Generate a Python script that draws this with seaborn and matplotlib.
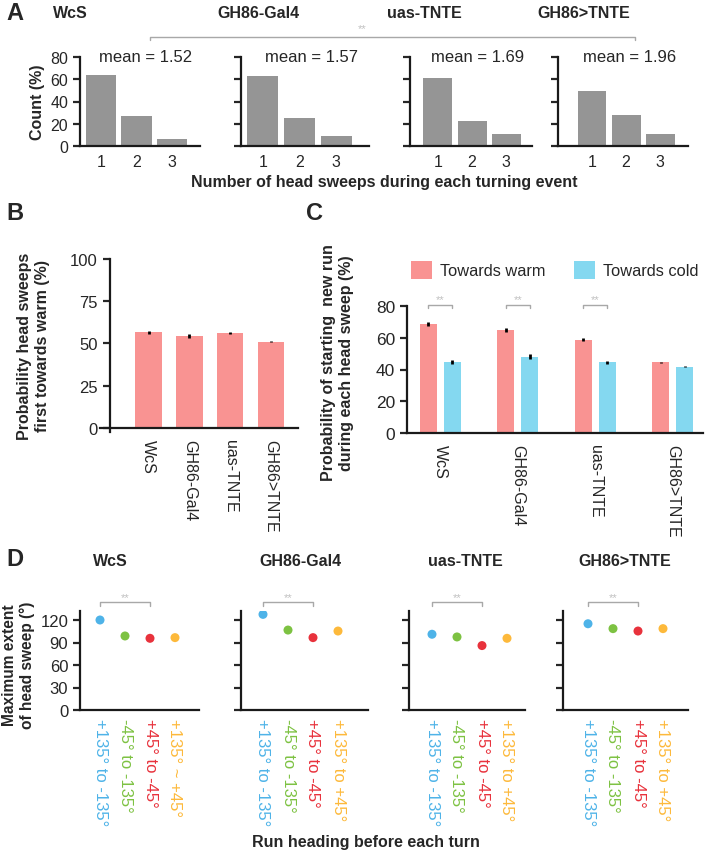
import numpy as np
import pandas as pd
import matplotlib
matplotlib.use("Agg")
import matplotlib.pyplot as plt
from matplotlib.patches import Patch
import seaborn as sns

# ---------------- data ----------------
genotypes = ["WcS", "GH86-Gal4", "uas-TNTE", "GH86>TNTE"]

# Panel A: distribution of head sweeps per turn (%)
sweep_counts = ["1", "2", "3"]
countA_wcs = [63.8, 26.7, 6.0]
countA_gal4 = [62.6, 25.2, 9.3]
countA_uas = [61.1, 22.7, 10.5]
countA_tnte = [49.4, 27.6, 11.1]
meansA = ["1.52", "1.57", "1.69", "1.96"]

# Panel B: probability head sweeps first towards warm (%)
probB = [56.6, 54.3, 56.2, 51.1]
errB = [1.0, 1.1, 0.8, 0.4]

# Panel C: probability of starting new run (%)
directions = ["Towards warm", "Towards cold"]
probC_warm = [68.7, 65.1, 58.8, 44.5]
probC_cold = [44.5, 48.1, 44.5, 41.8]
errC_warm = [1.2, 1.3, 1.0, 0.4]
errC_cold = [1.3, 1.6, 1.0, 0.4]

# Panel D: maximum extent of head sweep (deg)
headings = ["+135° to -135°", "-45° to -135°", "+45° to -45°", "+135° to +45°"]
headings_wcs = ["+135° to -135°", "-45° to -135°", "+45° to -45°", "+135° ~ +45°"]
extD_wcs = [120.0, 98.7, 95.6, 96.5]
extD_gal4 = [127.5, 106.6, 96.5, 105.3]
extD_uas = [101.0, 97.4, 85.9, 95.6]
extD_tnte = [115.0, 108.5, 105.3, 108.5]
errD_wcs = [2.0, 1.5, 1.5, 1.5]
errD_gal4 = [4.0, 1.5, 1.5, 1.5]
errD_uas = [1.5, 1.5, 1.5, 1.5]
errD_tnte = [1.5, 1.5, 1.5, 1.5]

# ---------------- style ----------------
sns.set_theme(style="ticks")
plt.rcParams["font.family"] = ["Liberation Sans", "DejaVu Sans"]
plt.rcParams["axes.linewidth"] = 1.6
plt.rcParams["xtick.major.width"] = 1.6
plt.rcParams["ytick.major.width"] = 1.6
plt.rcParams["ytick.major.size"] = 5
plt.rcParams["xtick.major.size"] = 0
plt.rcParams["axes.edgecolor"] = "#1a1a1a"

GRAY = "#959595"
PINK = "#F99392"
CYAN = "#84D8F0"
DCOLS = ["#4EB3E8", "#7DC242", "#E8323C", "#FDB93B"]
SIG = "#a8a8a8"
STAR = "#c0c0c0"

W, H = 707, 853
fig = plt.figure(figsize=(W / 100, H / 100), dpi=100)


def rect(l, t, r, b):
    return [l / W, 1 - b / H, (r - l) / W, (b - t) / H]


FS = 11.5

# ---------------- Panel A ----------------
A_rects = [(80, 58, 200, 147), (241, 58, 369, 147), (410, 58, 532, 147), (558, 58, 688, 147)]
A_xlims = [(-0.59, 2.79), (-0.6, 2.9), (-0.82, 2.76), (-1.0, 2.82)]
A_data = [countA_wcs, countA_gal4, countA_uas, countA_tnte]
A_title_x = [70, 258, 424, 584]
for i, (r, vals) in enumerate(zip(A_rects, A_data)):
    ax = fig.add_axes(rect(*r))
    df = pd.DataFrame({"n": sweep_counts, "pct": vals})
    sns.barplot(data=df, x="n", y="pct", color=GRAY, saturation=1, width=0.85,
                edgecolor="none", ax=ax)
    ax.set_xlim(*A_xlims[i])
    ax.set_ylim(0, 80)
    ax.set_yticks([0, 20, 40, 60, 80])
    sns.despine(ax=ax)
    ax.set_xlabel("")
    ax.set_ylabel("")
    ax.tick_params(axis="x", labelsize=FS, pad=6)
    ax.tick_params(axis="y", labelsize=FS)
    if i == 0:
        ax.set_ylabel("Count (%)", fontsize=FS, fontweight="bold", labelpad=4)
    else:
        ax.set_yticklabels([])
    ax.text(0.55, 1.0, f"mean = {meansA[i]}", transform=ax.transAxes,
            ha="center", va="center", fontsize=FS + 0.5)
    fig.text(A_title_x[i] / W, 1 - 13 / H, genotypes[i], ha="center", va="center",
             fontsize=FS, fontweight="bold")

fig.text(384 / W, 1 - 183 / H, "Number of head sweeps during each turning event",
         ha="center", va="center", fontsize=FS, fontweight="bold")
# significance line WcS vs GH86>TNTE
fig.add_artist(plt.Line2D([150 / W, 150 / W, 635 / W, 635 / W],
                          [1 - 41 / H, 1 - 38 / H, 1 - 38 / H, 1 - 41 / H],
                          color=SIG, lw=1.0))
fig.text(362 / W, 1 - 29 / H, "**", ha="center", va="center", fontsize=8, color=STAR)
fig.text(6 / W, 1 - 13 / H, "A", ha="left", va="center", fontsize=17, fontweight="bold")

# ---------------- Panel B ----------------
axB = fig.add_axes(rect(100, 260, 298, 433))
dfB = pd.DataFrame({"genotype": genotypes, "prob": probB})
sns.barplot(data=dfB, x="genotype", y="prob", color=PINK, saturation=1, width=0.65,
            edgecolor="none", ax=axB)
xb = np.arange(len(genotypes))
axB.errorbar(xb, probB, yerr=errB, fmt="none", ecolor="black", elinewidth=2, capsize=0)
axB.set_xlim(-1.19, 3.66)
axB.set_ylim(-2.4, 100)
axB.set_yticks([0, 25, 50, 75, 100])
sns.despine(ax=axB)
axB.spines["bottom"].set_position(("data", 0))
axB.spines["left"].set_position(("data", -0.95))
axB.spines["left"].set_bounds(-2.4, 100)
axB.set_xlabel("")
axB.set_ylabel("Probability head sweeps\nfirst towards warm (%)", fontsize=FS,
               fontweight="bold")
axB.yaxis.set_label_coords(-0.255, 0.5)
axB.tick_params(axis="y", labelsize=FS + 0.5)
axB.tick_params(axis="x", labelsize=FS, pad=8)
for lab in axB.get_xticklabels():
    lab.set_rotation(-90)
    lab.set_va("top")
    lab.set_ha("center")
fig.text(6 / W, 1 - 214 / H, "B", ha="left", va="center", fontsize=17, fontweight="bold")

# ---------------- Panel C ----------------
axC = fig.add_axes(rect(407, 307, 703, 434))
dfC = pd.DataFrame({
    "genotype": genotypes * 2,
    "direction": [directions[0]] * 4 + [directions[1]] * 4,
    "prob": probC_warm + probC_cold,
})
sns.barplot(data=dfC, x="genotype", y="prob", hue="direction", hue_order=directions,
            palette=[PINK, CYAN], saturation=1, width=0.62, gap=0.29,
            edgecolor="none", ax=axC, legend=False)
xc = np.arange(len(genotypes))
off = 0.155
axC.errorbar(xc - off, probC_warm, yerr=errC_warm, fmt="none", ecolor="black",
             elinewidth=2, capsize=0)
axC.errorbar(xc + off, probC_cold, yerr=errC_cold, fmt="none", ecolor="black",
             elinewidth=2, capsize=0)
axC.set_xlim(-0.43, 3.39)
axC.set_ylim(0, 80)
axC.set_yticks([0, 20, 40, 60, 80])
sns.despine(ax=axC)
axC.set_xlabel("")
axC.set_ylabel("Probability of starting  new run\nduring each head sweep (%)", fontsize=FS,
               fontweight="bold")
axC.yaxis.set_label_coords(-0.18, 0.56)
axC.tick_params(axis="y", labelsize=FS + 1)
axC.tick_params(axis="x", labelsize=FS, pad=8)
for lab in axC.get_xticklabels():
    lab.set_rotation(-90)
    lab.set_va("top")
    lab.set_ha("center")
# significance brackets for first three genotypes
for g in range(3):
    axC.plot([g - off, g - off, g + off, g + off], [78.5, 80.5, 80.5, 78.5],
             color=SIG, lw=1.0, clip_on=False)
    axC.text(g, 84.5, "**", ha="center", va="center", fontsize=8, color=STAR)
# legend
handles = [Patch(facecolor=PINK, edgecolor="none"), Patch(facecolor=CYAN, edgecolor="none")]
fig.legend(handles, directions, loc="center left", bbox_to_anchor=(411 / W, 1 - 271 / H),
           ncol=2, frameon=False, fontsize=FS + 0.3, handlelength=1.3, handleheight=1.3,
           handletextpad=0.45, columnspacing=1.75, borderaxespad=0, borderpad=0)
fig.text(306 / W, 1 - 214 / H, "C", ha="left", va="center", fontsize=17, fontweight="bold")

# ---------------- Panel D ----------------
D_rects = [(80, 612, 199, 711), (241, 612, 368, 711), (409, 612, 525, 711), (563, 612, 688, 711)]
D_first = [100, 263, 432, 588]
D_data = [extD_wcs, extD_gal4, extD_uas, extD_tnte]
D_err = [errD_wcs, errD_gal4, errD_uas, errD_tnte]
D_title_x = [110, 300, 465, 625]
for i, r in enumerate(D_rects):
    ax = fig.add_axes(rect(*r))
    lbls = headings_wcs if i == 0 else headings
    df = pd.DataFrame({"heading": lbls, "ext": D_data[i]})
    sns.scatterplot(data=df, x="heading", y="ext", hue="heading", palette=DCOLS,
                    s=42, edgecolor="none", legend=False, ax=ax, zorder=3)
    ax.errorbar(np.arange(4), D_data[i], yerr=D_err[i], fmt="none", ecolor=DCOLS,
                elinewidth=2, capsize=0, zorder=2)
    step = 25.0
    left = -(D_first[i] - r[0]) / step
    right = left + (r[2] - r[0]) / step
    ax.set_xlim(left, right)
    ax.set_ylim(0, 132)
    ax.set_xticks(np.arange(4))
    ax.set_xticklabels(lbls)
    ax.set_yticks([0, 30, 60, 90, 120])
    sns.despine(ax=ax)
    ax.set_xlabel("")
    ax.set_ylabel("")
    ax.tick_params(axis="y", labelsize=FS + 0.5)
    ax.tick_params(axis="x", labelsize=FS + 0.5, pad=6)
    for lab, c in zip(ax.get_xticklabels(), DCOLS):
        lab.set_rotation(-90)
        lab.set_va("top")
        lab.set_ha("center")
        lab.set_color(c)
    if i == 0:
        ax.set_ylabel("Maximum extent\nof head sweep (°)", fontsize=FS - 0.3, fontweight="bold")
        ax.yaxis.set_label_coords(-0.375, 0.46)
    else:
        ax.set_yticklabels([])
    ax.plot([0, 0, 2, 2], [139, 144, 144, 139], color=SIG, lw=1.0, clip_on=False)
    ax.text(1, 151, "**", ha="center", va="center", fontsize=8, color=STAR)
    fig.text(D_title_x[i] / W, 1 - 562 / H, genotypes[i], ha="center", va="center",
             fontsize=FS, fontweight="bold")

fig.text(366 / W, 1 - 843 / H, "Run heading before each turn", ha="center", va="center",
         fontsize=FS, fontweight="bold")
fig.text(6 / W, 1 - 560 / H, "D", ha="left", va="center", fontsize=17, fontweight="bold")

fig.savefig("out.png", dpi=100, facecolor="white")
